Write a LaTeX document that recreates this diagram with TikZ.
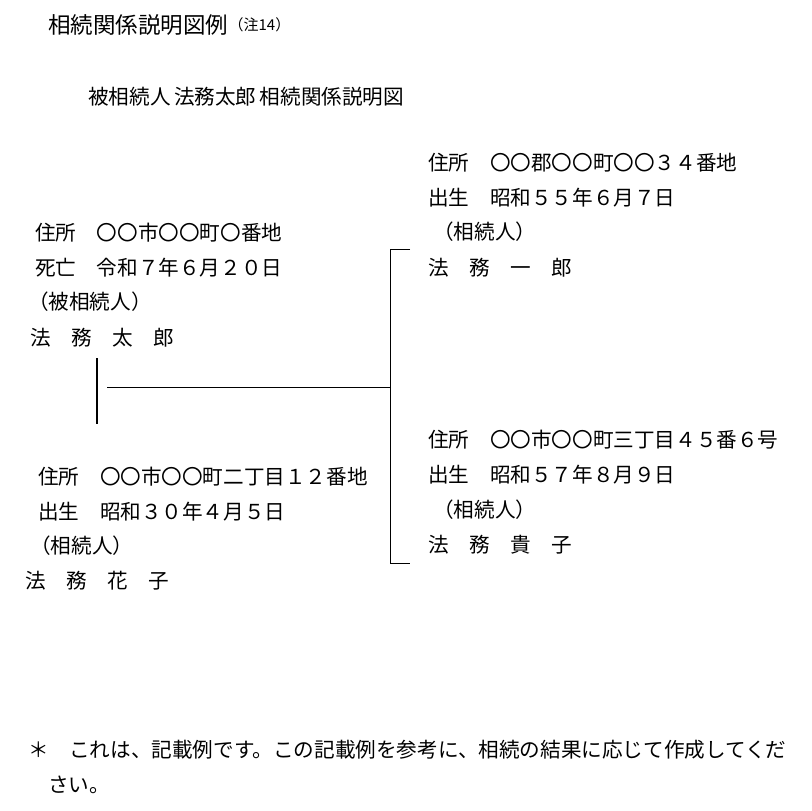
\documentclass[tikz,border=0pt]{standalone}
\usepackage{fontspec}
\newfontfamily\jp{Noto Sans CJK JP}
\tikzset{txt/.style={anchor=west,inner sep=0pt,font=\jp\fontsize{20.6}{22}\selectfont}}
\begin{document}
\begin{tikzpicture}[x=1pt,y=-1pt]
 \useasboundingbox (0,0) rectangle (812,811);
 % title
 \node (title) [txt,font=\jp\fontsize{22.5}{24}\selectfont] at (48,25) {相続関係説明図例};
 \node (note) [txt,font=\jp\fontsize{15}{17}\selectfont] at (title.east) {（注14）};
 \node (head) [txt] at (88,97) {被相続人\,法務太郎\,相続関係説明図};
 % deceased
 \node (dad 1) [txt] at (35,233) {住所　〇〇市〇〇町〇番地};
 \node (dad 2) [txt] at (35,268) {死亡　令和７年６月２０日};
 \node (dad 3) [txt] at (28,302) {（被相続人）};
 \node (dad 4) [txt] at (30,338) {法　務　太　郎};
 % spouse
 \node (mom 1) [txt] at (38,477) {住所　〇〇市〇〇町二丁目１２番地};
 \node (mom 2) [txt] at (38,512) {出生　昭和３０年４月５日};
 \node (mom 3) [txt] at (30,546) {（相続人）};
 \node (mom 4) [txt] at (25,581) {法　務　花　子};
 % children
 \node (son 1) [txt] at (428,163) {住所　〇〇郡〇〇町〇〇３４番地};
 \node (son 2) [txt] at (428,198) {出生　昭和５５年６月７日};
 \node (son 3) [txt] at (433,232) {（相続人）};
 \node (son 4) [txt] at (428,268) {法　務　一　郎};
 \node (dtr 1) [txt] at (428,440) {住所　〇〇市〇〇町三丁目４５番６号};
 \node (dtr 2) [txt] at (428,475) {出生　昭和５７年８月９日};
 \node (dtr 3) [txt] at (433,510) {（相続人）};
 \node (dtr 4) [txt] at (428,545) {法　務　貴　子};
 % lines
 \coordinate (mar top) at (97,358);
 \coordinate (mar bot) at (97,424);
 \coordinate (kid left) at (107,387);
 \coordinate (kid right) at (390,387);
 \draw[line width=1.6pt] (mar top) -- (mar bot);
 \draw (kid left) -- (kid right);
 \coordinate (br a) at (410,249);
 \coordinate (br b) at (390,249);
 \coordinate (br c) at (390,563);
 \coordinate (br d) at (410,563);
 \draw (br a) -- (br b) -- (br c) -- (br d);
 % footer
 \node (foot 1) [txt] at (28,750) {＊　これは、記載例です。この記載例を参考に、相続の結果に応じて作成してくだ};
 \node (foot 2) [txt] at (48,785) {さい。};
\end{tikzpicture}
\end{document}
